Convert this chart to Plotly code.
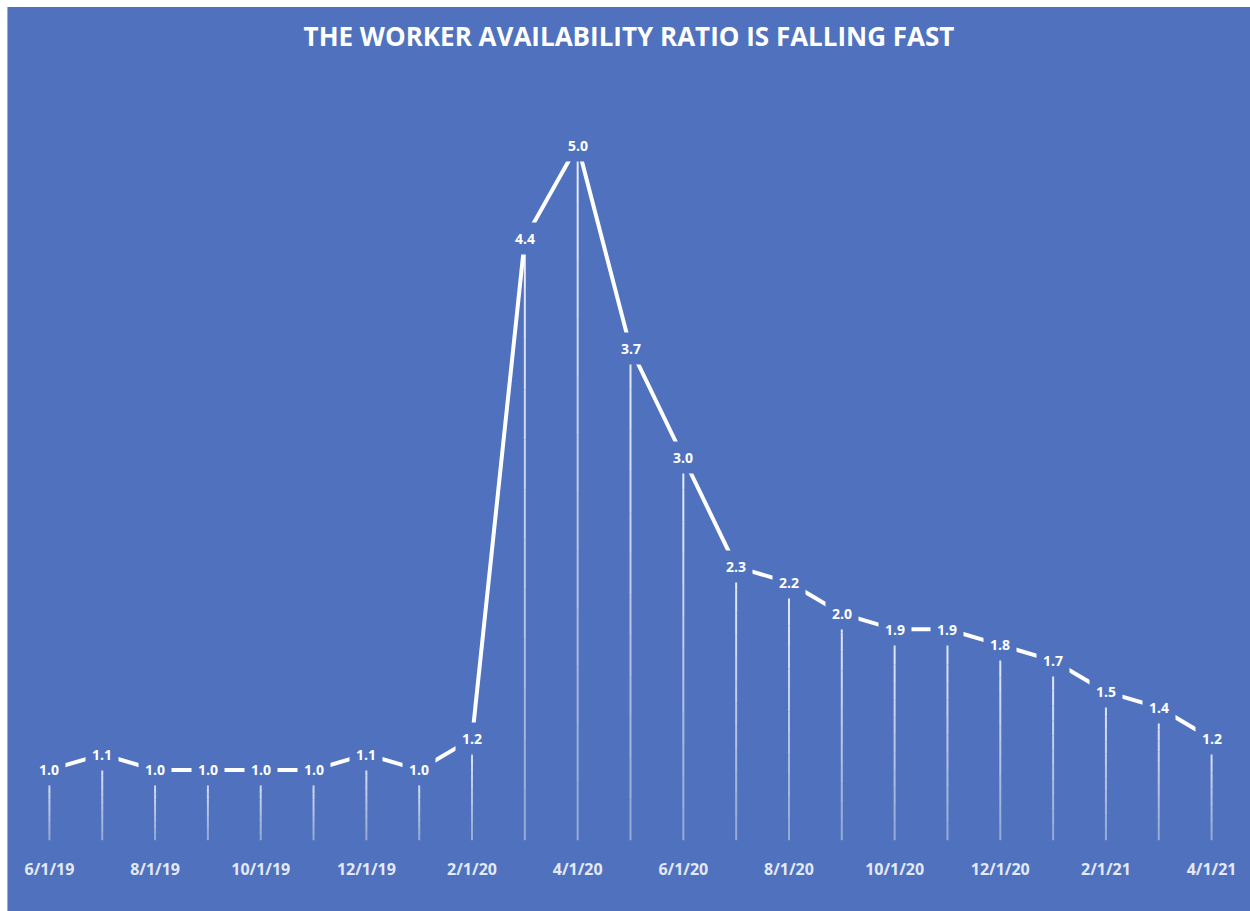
import plotly.graph_objects as go

# ---- data ----
months = ["6/1/19", "7/1/19", "8/1/19", "9/1/19", "10/1/19", "11/1/19", "12/1/19",
          "1/1/20", "2/1/20", "3/1/20", "4/1/20", "5/1/20", "6/1/20", "7/1/20",
          "8/1/20", "9/1/20", "10/1/20", "11/1/20", "12/1/20", "1/1/21", "2/1/21",
          "3/1/21", "4/1/21"]
ratio = [1.0, 1.1, 1.0, 1.0, 1.0, 1.0, 1.1, 1.0, 1.2, 4.4, 5.0, 3.7, 3.0, 2.3,
         2.2, 2.0, 1.9, 1.9, 1.8, 1.7, 1.5, 1.4, 1.2]
title_text = "THE WORKER AVAILABILITY RATIO IS FALLING FAST"

# ---- layout constants ----
W, H = 1250, 911
L, R, T, B = 22.6, 11.6, 67, 63
BLUE = "#5072BE"
YMIN, YMAX = 0.5, 5.5
DROP_END = 0.55

idx = list(range(len(months)))
pw = W - L - R
ph = H - T - B

fig = go.Figure()

# drop lines with fading gradient (segmented)
nseg = 12
for s in range(nseg):
    xs, ys = [], []
    for i, v in zip(idx, ratio):
        top = v - (v - DROP_END) * s / nseg
        bot = v - (v - DROP_END) * (s + 1) / nseg
        xs += [i, i, None]
        ys += [top, bot, None]
    op = 0.85 - 0.45 * s / (nseg - 1)
    fig.add_trace(go.Scatter(x=xs, y=ys, mode="lines",
                             line=dict(color=f"rgba(255,255,255,{op:.3f})", width=2),
                             hoverinfo="skip", showlegend=False))

# main line
fig.add_trace(go.Scatter(x=idx, y=ratio, mode="lines",
                         line=dict(color="white", width=4),
                         showlegend=False))

# data labels with background to break the line
for i, v in zip(idx, ratio):
    fig.add_annotation(x=i, y=v, text=f"<b>{v:.1f}</b>", showarrow=False,
                       font=dict(family="Open Sans", size=14, color="white"),
                       bgcolor=BLUE, borderpad=6, xanchor="center", yanchor="middle")

# white border strips on left and top
fig.add_shape(type="rect", xref="paper", yref="paper", layer="above",
              x0=-L / pw - 0.01, x1=(7 - L) / pw,
              y0=-(B + 5) / ph, y1=(H - B + 5) / ph,
              fillcolor="white", line=dict(width=0))
fig.add_shape(type="rect", xref="paper", yref="paper", layer="above",
              x0=-L / pw - 0.01, x1=(W + 5 - L) / pw,
              y0=(H - B - 7) / ph, y1=(H - B + 5) / ph,
              fillcolor="white", line=dict(width=0))

tickvals = idx[::2]
ticktext = [f"<b>{m}</b>" for m in months[::2]]

fig.update_layout(
    width=W, height=H,
    margin=dict(l=L, r=R, t=T, b=B, pad=0),
    paper_bgcolor=BLUE,
    plot_bgcolor=BLUE,
    title=dict(text=f"<b>{title_text}</b>", x=629 / W, xanchor="center",
               y=1 - 37 / H, yanchor="middle",
               font=dict(family="Open Sans", size=26, color="white")),
    xaxis=dict(range=[-0.5, len(months) - 0.5], tickvals=tickvals, ticktext=ticktext,
               showgrid=False, zeroline=False, showline=False, ticks="",
               ticklabelstandoff=10,
               tickfont=dict(family="Open Sans", size=16, color="#e3e9f5")),
    yaxis=dict(range=[YMIN, YMAX], visible=False, showgrid=False, zeroline=False),
)

fig.write_html("out.html")
